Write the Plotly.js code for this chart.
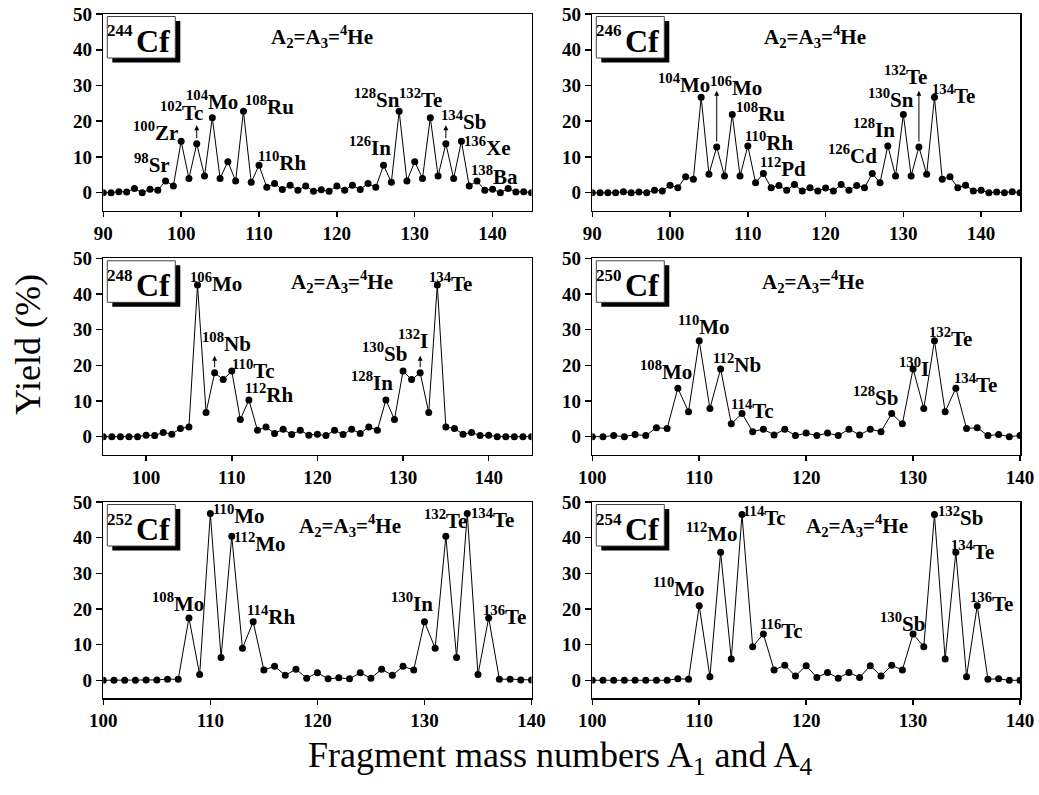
<!DOCTYPE html>
<html>
<head>
<meta charset="utf-8">
<script src="https://cdn.plot.ly/plotly-3.0.1.min.js"></script>
<style>html,body{margin:0;padding:0;background:#fff;}#chart{width:1039px;height:795px;}</style>
</head>
<body>
<div id="chart"></div>
<script>
// ---------------- data ----------------
const mass244 = [90,91,92,93,94,95,96,97,98,99,100,101,102,103,104,105,106,107,108,109,110,111,112,113,114,115,116,117,118,119,120,121,122,123,124,125,126,127,128,129,130,131,132,133,134,135,136,137,138,139,140,141,142,143,144,145];
const yield244 = [0,0,0.3,0.2,1.2,0,1.0,0.7,3.3,1.9, 14.4,4.0,13.7,4.7,21.0,4.0,8.7,3.3,22.8,2.9, 7.7,1.5,2.6,0.9,2.1,0.7,1.9,0.4,0.8,0.4, 1.9,0.7,2.1,0.9,2.6,1.5,7.7,2.9,22.8,3.3, 8.7,4.0,21.0,4.7,13.7,4.0,14.4,1.9,3.3,0.7, 1.0,0,1.2,0.2,0.3,0];

const mass246 = [90,91,92,93,94,95,96,97,98,99,100,101,102,103,104,105,106,107,108,109,110,111,112,113,114,115,116,117,118,119,120,121,122,123,124,125,126,127,128,129,130,131,132,133,134,135,136,137,138,139,140,141,142,143,144,145];
const yield246 = [0,0,0,0,0.3,0,0.2,0,0.7,0.5, 2.1,1.4,4.5,3.8,26.7,5.2,12.8,4.7,21.9,4.7, 13.1,2.8,5.4,1.4,2.0,0.7,2.3,0.5,1.4,0.5, 1.3,0.5,2.3,0.7,2.0,1.4,5.4,2.8,13.1,4.7, 21.9,4.7,12.8,5.2,26.7,3.8,4.5,1.4,2.1,0.5, 0.7,0,0.2,0,0.3,0];

const mass248 = [95,96,97,98,99,100,101,102,103,104,105,106,107,108,109,110,111,112,113,114,115,116,117,118,119,120,121,122,123,124,125,126,127,128,129,130,131,132,133,134,135,136,137,138,139,140,141,142,143,144,145];
const yield248 = [0,0,0,0,0, 0.4,0.3,1.2,0.7,2.3,2.7,42.5,6.8,17.9,16.0, 18.4,4.8,10.3,1.8,2.7,0.9,2.1,0.6,1.8,0.4, 0.7,0.3,1.8,0.6,2.1,0.9,2.7,1.8,10.3,4.8, 18.4,16.0,17.9,6.8,42.5,2.7,2.3,0.7,1.2,0.3, 0.4,0,0,0,0,0];

const mass250 = [100,101,102,103,104,105,106,107,108,109,110,111,112,113,114,115,116,117,118,119,120,121,122,123,124,125,126,127,128,129,130,131,132,133,134,135,136,137,138,139,140];
const yield250 = [0,0,0.3,0,0.6,0.3,2.5,2.3,13.6,7.0, 26.9,7.9,19.0,3.6,6.5,1.4,2.1,0.5,2.1,0.3, 1.0,0.3,1.0,0.3,2.1,0.5,2.1,1.4,6.5,3.6, 19.0,7.9,26.9,7.0,13.6,2.3,2.5,0.3,0.6,0, 0.3];

const mass252 = [100,101,102,103,104,105,106,107,108,109,110,111,112,113,114,115,116,117,118,119,120,121,122,123,124,125,126,127,128,129,130,131,132,133,134,135,136,137,138,139,140];
const yield252 = [0,0,0,0,0.1,0.1,0.3,0.3,17.5,1.6, 46.8,6.4,40.4,9.0,16.4,2.9,3.9,1.4,3.1,0.6, 2.1,0.4,0.7,0.4,2.1,0.6,3.1,1.4,3.9,2.9, 16.4,9.0,40.4,6.4,46.8,1.6,17.5,0.3,0.3,0.1, 0.1];

const mass254 = [100,101,102,103,104,105,106,107,108,109,110,111,112,113,114,115,116,117,118,119,120,121,122,123,124,125,126,127,128,129,130,131,132,133,134,135,136,137,138,139,140];
const yield254 = [0,0,0,0,0,0,0,0,0.4,0.3, 20.9,1.0,35.9,6.0,46.5,9.4,13.0,2.9,4.2,1.2, 4.1,0.8,2.2,0.6,2.2,0.8,4.1,1.2,4.2,2.9, 13.0,9.4,46.5,6.0,35.9,1.0,20.9,0.3,0.4,0, 0];

// isotope labels: [mass number, element]
const iso244 = [[98,'Sr'],[100,'Zr'],[102,'Tc'],[104,'Mo'],[108,'Ru'],[110,'Rh'],[126,'In'],[128,'Sn'],[132,'Te'],[134,'Sb'],[136,'Xe'],[138,'Ba']];
const iso246 = [[104,'Mo'],[106,'Mo'],[108,'Ru'],[110,'Rh'],[112,'Pd'],[126,'Cd'],[128,'In'],[130,'Sn'],[132,'Te'],[134,'Te']];
const iso248 = [[106,'Mo'],[108,'Nb'],[110,'Tc'],[112,'Rh'],[128,'In'],[130,'Sb'],[132,'I'],[134,'Te']];
const iso250 = [[108,'Mo'],[110,'Mo'],[112,'Nb'],[114,'Tc'],[128,'Sb'],[130,'I'],[132,'Te'],[134,'Te']];
const iso252 = [[108,'Mo'],[110,'Mo'],[112,'Mo'],[114,'Rh'],[130,'In'],[132,'Te'],[134,'Te'],[136,'Te']];
const iso254 = [[110,'Mo'],[112,'Mo'],[114,'Tc'],[116,'Tc'],[130,'Sb'],[132,'Sb'],[134,'Te'],[136,'Te']];

// masses marked with an upward arrow (lower limit)
const arrows244 = [102,134];
const arrows246 = [106,132];
const arrows248 = [108,132];

const parents = ['244','246','248','250','252','254'];

// ---------------- layout placement (not data) ----------------
const labelPos244 = [[96.3,8.2],[96.7,17.1],[100,22.7],[103.9,25.9],[111.3,24.5],[112.9,8.7],[124.3,12.9],[125.1,26.4],[130.7,26.4],[136.3,20.3],[139.4,12.9],[140.3,4.9]];
const labelPos246 = [[101.8,30.6],[108.5,29.7],[111.6,22.4],[112.7,14.3],[114.5,7.0],[123.5,10.7],[126.2,18.0],[128.4,26.4],[130.3,32.9],[136.4,27.5]];
const labelPos248 = [[108.2,43.3],[109.4,26.4],[112.5,18.7],[114.4,12.1],[126.4,15.6],[127.8,23.6],[131.2,27.1],[135.5,43.3]];
const labelPos250 = [[106.9,18.5],[110.4,31.1],[113.5,20.4],[115.0,7.6],[126.5,11.3],[130.1,19.4],[133.5,27.9],[135.8,14.8]];
const labelPos252 = [[107.0,21.9],[112.7,46.4],[114.6,38.7],[115.7,18.3],[128.8,21.9],[132.0,45.2],[136.4,45.4],[137.5,18.3]];
const labelPos254 = [[108.1,26.1],[111.2,41.5],[116.1,45.9],[117.7,14.3],[129.0,16.3],[134.4,45.9],[135.6,36.3],[137.3,21.9]];
const arrowTop = [18.9, 28.5, 22.7];

const W = 1039, H = 795;
const colX = [[103.3, 531.5],[592.3, 1020]];
const rowY = [[14, 210.6],[258.3, 454.5],[502, 698.1]];
const heX = [0.51, 0.52, 0.557, 0.516, 0.577, 0.62];

const panels = [
  {m: mass244, y: yield244, iso: iso244, pos: labelPos244, arr: arrows244, range:[90,145], tick0:90, col:0, row:0},
  {m: mass246, y: yield246, iso: iso246, pos: labelPos246, arr: arrows246, range:[90,145], tick0:90, col:1, row:0},
  {m: mass248, y: yield248, iso: iso248, pos: labelPos248, arr: arrows248, range:[95,145], tick0:100, col:0, row:1},
  {m: mass250, y: yield250, iso: iso250, pos: labelPos250, arr: [], range:[100,140], tick0:100, col:1, row:1},
  {m: mass252, y: yield252, iso: iso252, pos: labelPos252, arr: [], range:[100,140], tick0:100, col:0, row:2},
  {m: mass254, y: yield254, iso: iso254, pos: labelPos254, arr: [], range:[100,140], tick0:100, col:1, row:2}
];

const FONT = 'Liberation Serif';
const traces = [];
const annotations = [];
const shapes = [];
const layout = {
  width: W, height: H,
  margin: {l:0, r:0, t:0, b:0},
  paper_bgcolor: '#fff', plot_bgcolor: '#fff',
  showlegend: false,
  font: {family: FONT, color: '#000', size: 14}
};

panels.forEach((p, i) => {
  const id = i === 0 ? '' : String(i + 1);
  const xa = 'x' + id, ya = 'y' + id;
  traces.push({
    type: 'scatter', mode: 'lines+markers',
    x: p.m, y: p.y, xaxis: xa, yaxis: ya,
    line: {color: '#000', width: 1},
    marker: {color: '#000', size: 7, symbol: 'circle'},
    hoverinfo: 'x+y'
  });
  const cx = colX[p.col], ry = rowY[p.row];
  const axCommon = {
    showline: true, linecolor: '#000', linewidth: 1.5, mirror: true,
    ticks: 'outside', tickwidth: 1.5, tickcolor: '#000',
    showgrid: false, zeroline: false,
    tickfont: {family: FONT, size: 19, color: '#000', weight: 'bold'}
  };
  layout['xaxis' + id] = Object.assign({}, axCommon, {
    domain: [cx[0] / W, cx[1] / W], range: p.range,
    tickmode: 'linear', tick0: p.tick0, dtick: 10, ticklen: 5,
    anchor: ya
  });
  layout['yaxis' + id] = Object.assign({}, axCommon, {
    domain: [1 - ry[1] / H, 1 - ry[0] / H], range: [-5, 50],
    tickmode: 'linear', tick0: 0, dtick: 10, ticklen: 6,
    anchor: xa
  });

  // isotope labels
  p.iso.forEach((it, k) => {
    annotations.push({
      xref: xa, yref: ya, x: p.pos[k][0], y: p.pos[k][1],
      text: '<sup>' + it[0] + '</sup>' + it[1],
      showarrow: false, xanchor: 'center', yanchor: 'middle',
      font: {family: FONT, size: 21, color: '#000', weight: 'bold'}
    });
  });
  // upward arrows
  p.arr.forEach(mm => {
    const idx = p.m.indexOf(mm);
    annotations.push({
      xref: xa, yref: ya, axref: xa, ayref: ya,
      x: mm, y: arrowTop[i], ax: mm, ay: p.y[idx],
      text: '', showarrow: true, arrowhead: 2, arrowsize: 1, arrowwidth: 1,
      arrowcolor: '#000', startstandoff: 4
    });
  });

  // parent nucleus box with shadow
  const dx = xa + ' domain', dy = ya + ' domain';
  const pw = cx[1] - cx[0], ph = ry[1] - ry[0];
  shapes.push({type: 'rect', xref: dx, yref: dy, x0: 9 / pw, x1: 77 / pw, y0: 1 - 48.5 / ph, y1: 1 - 7 / ph,
    fillcolor: '#000', line: {width: 0}, layer: 'above'});
  shapes.push({type: 'rect', xref: dx, yref: dy, x0: 4 / pw, x1: 72 / pw, y0: 1 - 44 / ph, y1: 1 - 2.5 / ph,
    fillcolor: '#fff', line: {color: '#444', width: 1}, layer: 'above'});
  annotations.push({
    xref: dx, yref: dy, x: 32 / pw, y: 1 - 17 / ph, text: parents[i],
    showarrow: false, xanchor: 'right', yanchor: 'middle',
    font: {family: FONT, size: 17, color: '#000', weight: 'bold'}
  });
  annotations.push({
    xref: dx, yref: dy, x: 31 / pw, y: 1 - 26.5 / ph, text: 'Cf',
    showarrow: false, xanchor: 'left', yanchor: 'middle',
    font: {family: FONT, size: 32, color: '#000', weight: 'bold'}
  });
  annotations.push({
    xref: dx, yref: dy, x: heX[i], y: 1 - 23 / ph,
    text: 'A<sub>2</sub>=A<sub>3</sub>=<sup>4</sup>He',
    showarrow: false, xanchor: 'center', yanchor: 'middle',
    font: {family: FONT, size: 21, color: '#000', weight: 'bold'}
  });
});

// global axis titles
annotations.push({
  xref: 'paper', yref: 'paper', x: 28 / W, y: 1 - 345 / H,
  text: 'Yield (%)', textangle: -90, showarrow: false,
  xanchor: 'center', yanchor: 'middle',
  font: {family: FONT, size: 36, color: '#000', weight: 'normal'}
});
annotations.push({
  xref: 'paper', yref: 'paper', x: 560 / W, y: 1 - 757 / H,
  text: 'Fragment mass numbers A<sub>1</sub> and A<sub>4</sub>', showarrow: false,
  xanchor: 'center', yanchor: 'middle',
  font: {family: FONT, size: 36, color: '#000', weight: 'normal'}
});

layout.annotations = annotations;
layout.shapes = shapes;

Plotly.newPlot('chart', traces, layout, {displayModeBar: false, staticPlot: true});
</script>
</body>
</html>
